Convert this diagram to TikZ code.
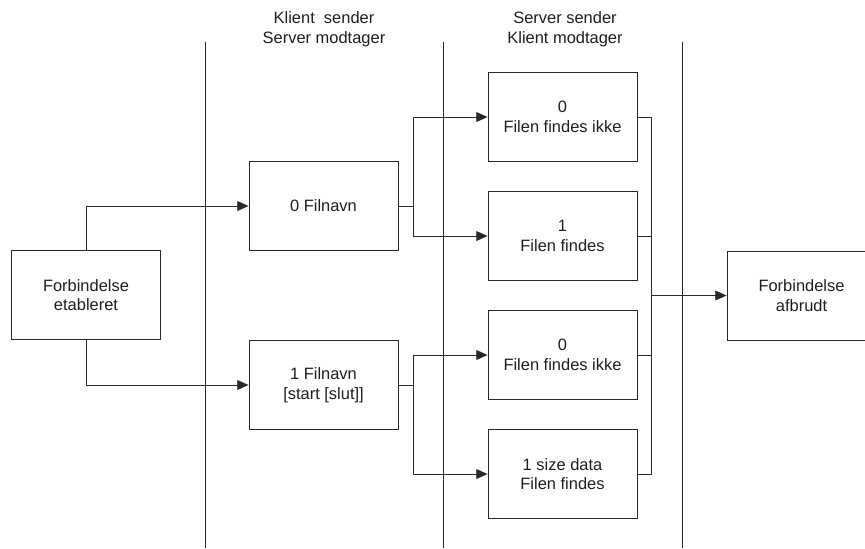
\documentclass[tikz,border=0pt]{standalone}
\usepackage{fontspec}
\setmainfont{Liberation Sans}
\usepackage{tikz}
\usetikzlibrary{positioning, arrows.meta}
\definecolor{LineGray}{RGB}{40,40,40}
\definecolor{TextGray}{RGB}{30,30,30}

\begin{document}
\begin{tikzpicture}[x=0.025cm, y=-0.025cm,
          state/.style={rectangle, draw=LineGray, line width=0.6pt,
                        minimum width=3.725cm, minimum height=2.225cm,
                        align=center, text=TextGray,
                        font=\fontsize{11.7}{14}\selectfont},
          head/.style={align=center, text=TextGray,
                       font=\fontsize{11.7}{14}\selectfont},
          sep/.style={draw=LineGray, line width=0.6pt},
          link/.style={draw=LineGray, line width=0.6pt},
          arr/.style={link, -{Triangle[length=8pt, width=7pt]}}
        ]
        \clip (0,0) rectangle (865,548);

        % phase separators
        \foreach \x in {205, 443, 682} {
          \draw[sep] (\x,42) -- (\x,548);
        }
        \node[head] (h1) at (324,29) {Klient\ \ sender\\Server modtager};
        \node[head] (h2) at (565,29) {Server sender\\Klient modtager};

        % states
        \node[state] (fe)  at (86,295)    {Forbindelse\\etableret};
        \node[state] (fn0) at (323.5,206) {0 Filnavn};
        \node[state] (fn1) at (323.5,385) {1 Filnavn\\{[start [slut]]}};
        \node[state] (s1)  at (562.5,117) {0\\Filen findes ikke};
        \node[state] (s2)  at (562.5,236) {1\\Filen findes};
        \node[state] (s3)  at (562.5,355) {0\\Filen findes ikke};
        \node[state] (s4)  at (562.5,474) {1 size data\\Filen findes};
        \node[state] (fa)  at (801.5,295.5) {Forbindelse\\afbrudt};

        % requests
        \draw[arr] (fe.north) |- (fn0.west);
        \draw[arr] (fe.south) |- (fn1.west);

        % replies
        \foreach \s in {s1,s2} {
          \draw[arr] (fn0.east) -- ++(15,0) |- (\s.west);
        }
        \foreach \s in {s3,s4} {
          \draw[arr] (fn1.east) -- ++(15,0) |- (\s.west);
        }

        % close
        \path (fa.west) ++(-75,0) coordinate (m);
        \foreach \s in {s1,s2,s3,s4} {
          \draw[link] (\s.east) -| (m);
        }
        \draw[arr] (m) -- (fa.west);
      \end{tikzpicture}
\end{document}
